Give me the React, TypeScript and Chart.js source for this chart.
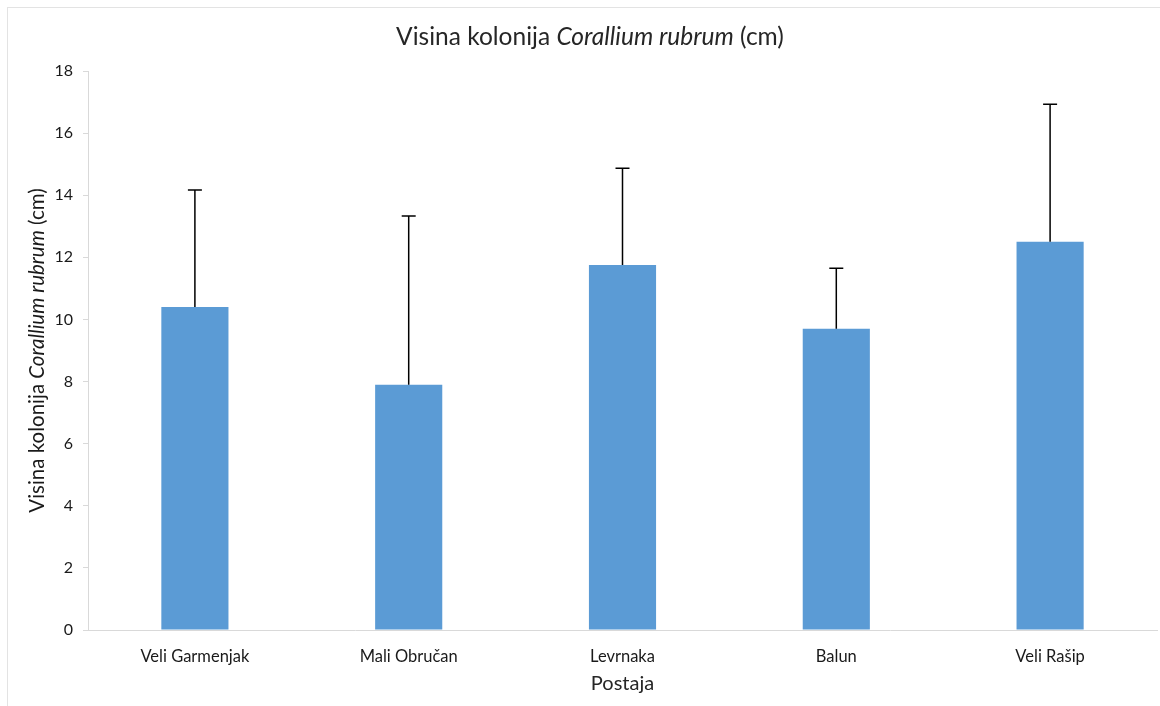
import React, { useEffect, useRef } from "react";
import { Chart, registerables } from "chart.js";

Chart.register(...registerables);

const categories = ["Veli Garmenjak", "Mali Obručan", "Levrnaka", "Balun", "Veli Rašip"];
const means = [10.4, 7.9, 11.75, 9.7, 12.5];
const errorTops = [14.17, 13.33, 14.87, 11.65, 16.93];
const yTicks = [0, 2, 4, 6, 8, 10, 12, 14, 16, 18];

const FONT = "Lato, 'Open Sans', sans-serif";

function drawMixed(ctx: CanvasRenderingContext2D, parts: [string, boolean][], size: number, x: number, y: number, color: string) {
  ctx.save();
  ctx.fillStyle = color;
  ctx.textBaseline = "middle";
  ctx.textAlign = "left";
  let total = 0;
  const widths = parts.map(([t, it]) => {
    ctx.font = `${it ? "italic " : ""}${size}px ${FONT}`;
    const w = ctx.measureText(t).width;
    total += w;
    return w;
  });
  let cx = x - total / 2;
  parts.forEach(([t, it], i) => {
    ctx.font = `${it ? "italic " : ""}${size}px ${FONT}`;
    ctx.fillText(t, cx, y);
    cx += widths[i];
  });
  ctx.restore();
}

const decorPlugin = {
  id: "decor",
  beforeDraw(chart: any) {
    const ctx = chart.ctx as CanvasRenderingContext2D;
    ctx.save();
    ctx.fillStyle = "#ffffff";
    ctx.fillRect(0, 0, chart.width, chart.height);
    ctx.strokeStyle = "#e3e3e3";
    ctx.lineWidth = 1;
    ctx.strokeRect(7.5, 7.5, chart.width + 20, chart.height + 20);
    ctx.restore();
  },
  afterDraw(chart: any) {
    const ctx = chart.ctx as CanvasRenderingContext2D;
    const area = chart.chartArea;
    drawMixed(ctx, [["Visina kolonija ", false], ["Corallium rubrum", true], [" (cm)", false]], 24.5, 590, 37, "#262626");
    ctx.save();
    ctx.translate(37, (area.top + area.bottom) / 2);
    ctx.rotate(-Math.PI / 2);
    drawMixed(ctx, [["Visina kolonija ", false], ["Corallium rubrum", true], [" (cm)", false]], 20.5, 0, 0, "#1a1a1a");
    ctx.restore();
    drawMixed(ctx, [["Postaja", false]], 20, (area.left + area.right) / 2, 684, "#262626");
  },
};

const errorPlugin = {
  id: "errbars",
  afterDatasetsDraw(chart: any) {
    const ctx = chart.ctx as CanvasRenderingContext2D;
    const meta = chart.getDatasetMeta(0);
    const yScale = chart.scales.y;
    ctx.save();
    ctx.strokeStyle = "#000000";
    ctx.lineWidth = 1.5;
    meta.data.forEach((bar: any, i: number) => {
      const x = bar.x;
      const yTop = yScale.getPixelForValue(errorTops[i]);
      const yBase = yScale.getPixelForValue(means[i]);
      ctx.beginPath();
      ctx.moveTo(x, yBase);
      ctx.lineTo(x, yTop);
      ctx.moveTo(x - 7, yTop);
      ctx.lineTo(x + 7, yTop);
      ctx.stroke();
    });
    ctx.restore();
  },
};

export default function App() {
  const ref = useRef<HTMLCanvasElement | null>(null);
  useEffect(() => {
    if (!ref.current) return;
    const chart = new Chart(ref.current, {
      type: "bar",
      data: {
        labels: categories,
        datasets: [
          {
            data: means,
            backgroundColor: "#5B9BD5",
            barPercentage: 0.314,
            categoryPercentage: 1,
          },
        ],
      },
      options: {
        animation: false,
        responsive: false,
        layout: { padding: { left: 0, top: 71, right: 3, bottom: 0 } },
        plugins: { legend: { display: false }, tooltip: { enabled: false }, title: { display: false } },
        scales: {
          x: {
            grid: { display: false, drawTicks: false },
            border: { display: true, color: "#d9d9d9", width: 1 },
            ticks: { color: "#1a1a1a", font: { family: FONT, size: 16.5 }, padding: 17, maxRotation: 0 },
            afterFit(scale: any) {
              scale.height = 76;
            },
          },
          y: {
            min: 0,
            max: 18,
            afterBuildTicks(scale: any) {
              scale.ticks = yTicks.map((v) => ({ value: v }));
            },
            grid: { drawOnChartArea: false, drawTicks: true, tickLength: 5, color: "#d9d9d9" },
            border: { display: true, color: "#d9d9d9", width: 1 },
            ticks: { color: "#1a1a1a", font: { family: FONT, size: 16 }, padding: 10 },
            afterFit(scale: any) {
              scale.width = 88;
            },
          },
        },
      },
      plugins: [decorPlugin, errorPlugin],
    });
    return () => chart.destroy();
  }, []);
  return (
    <div style={{ position: "absolute", left: 0, top: 0, width: 1160, height: 706 }}>
      <canvas ref={ref} width={1160} height={706} style={{ width: 1160, height: 706 }} />
    </div>
  );
}
